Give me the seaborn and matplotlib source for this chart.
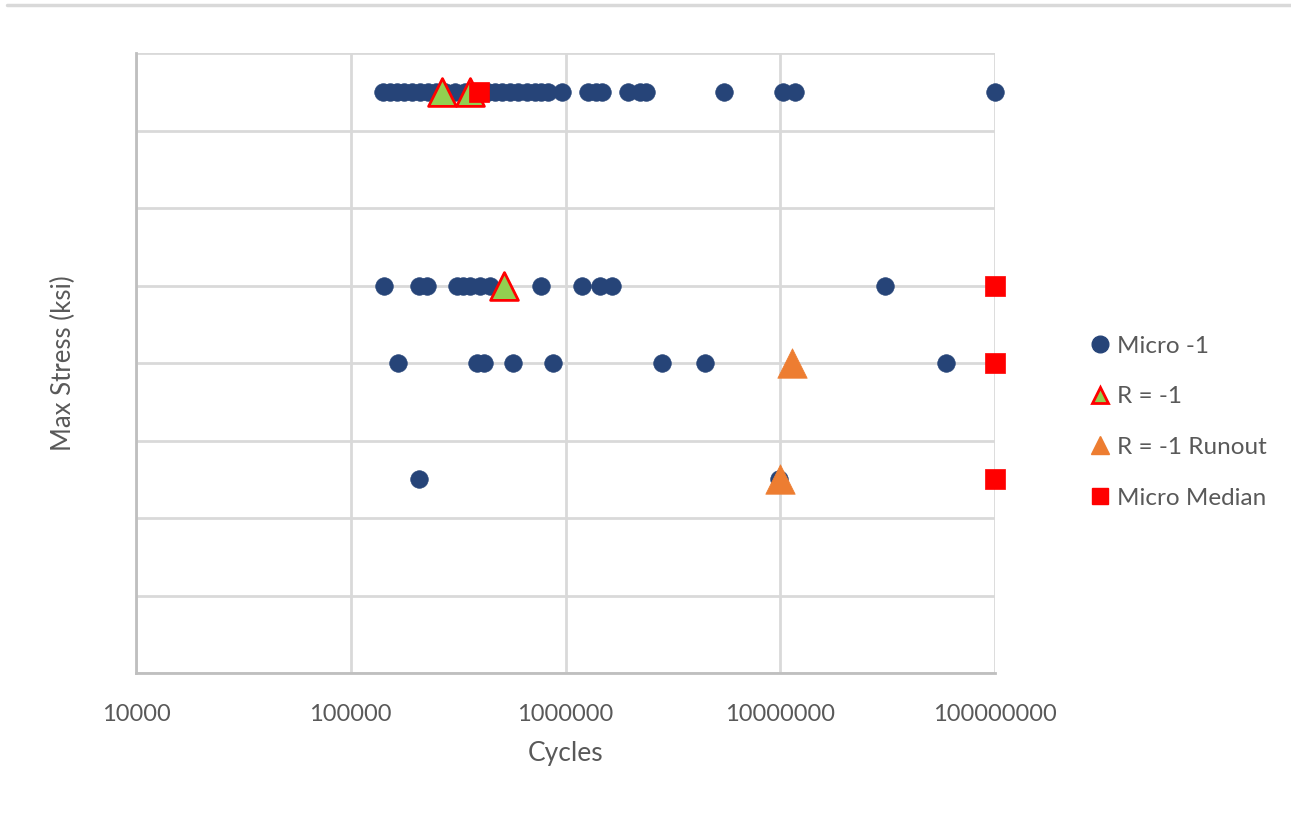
import numpy as np
import pandas as pd
import seaborn as sns
import matplotlib.pyplot as plt
from matplotlib.lines import Line2D
from matplotlib.ticker import FixedLocator, FixedFormatter

# ---- data -----------------------------------------------------------------
micro_cycles = [
    # 75 ksi level
    1.41e5, 1.52e5, 1.64e5, 1.77e5, 1.93e5, 2.10e5, 2.29e5, 2.49e5, 2.75e5,
    3.06e5, 3.40e5, 3.71e5, 4.00e5, 4.36e5, 4.70e5, 5.06e5, 5.52e5, 6.01e5,
    6.62e5, 7.21e5, 7.69e5, 8.29e5, 9.6e5, 1.27e6, 1.39e6, 1.48e6, 1.95e6,
    2.22e6, 2.37e6, 5.48e6, 1.03e7, 1.17e7, 1.0e8,
    # 50 ksi level
    1.43e5, 2.08e5, 2.27e5, 3.12e5, 3.33e5, 3.59e5, 4.00e5, 4.45e5, 7.69e5,
    1.19e6, 1.45e6, 1.65e6, 3.08e7,
    # 40 ksi level
    1.66e5, 3.87e5, 4.17e5, 5.70e5, 8.75e5, 2.81e6, 4.47e6, 5.92e7,
    # 25 ksi level
    2.08e5, 9.9e6,
]
micro_stress = [75] * 33 + [50] * 13 + [40] * 8 + [25] * 2

r1_cycles = [2.66e5, 3.59e5, 5.17e5]
r1_stress = [75, 75, 50]

runout_cycles = [1.13e7, 1.0e7]
runout_stress = [40, 25]

median_cycles = [3.95e5, 1.0e8, 1.0e8, 1.0e8]
median_stress = [75, 50, 40, 25]

x_ticks = [1e4, 1e5, 1e6, 1e7, 1e8]
x_tick_labels = ["10000", "100000", "1000000", "10000000", "100000000"]
y_ticks = [0, 10, 20, 30, 40, 50, 60, 70, 80]

series_labels = ["Micro -1", "R = -1", "R = -1 Runout", "Micro Median"]

# ---- styling --------------------------------------------------------------
BLUE = "#264478"
GREEN = "#92D050"
RED = "#FF0000"
ORANGE = "#ED7D31"
GRID = "#D9D9D9"
TEXT = "#595959"

sns.set_theme(style="white")
plt.rcParams["font.family"] = ["Lato", "DejaVu Sans"]

fig = plt.figure(figsize=(12.91, 8.34), dpi=100)
ax = fig.add_axes([136 / 1291, 1 - 673 / 834, (995 - 136) / 1291, (673 - 53) / 834])

micro = pd.DataFrame({"cycles": micro_cycles, "stress": micro_stress})
r1 = pd.DataFrame({"cycles": r1_cycles, "stress": r1_stress})
runout = pd.DataFrame({"cycles": runout_cycles, "stress": runout_stress})
median = pd.DataFrame({"cycles": median_cycles, "stress": median_stress})

sns.scatterplot(data=micro, x="cycles", y="stress", ax=ax, marker="o", s=160,
                color=BLUE, edgecolor=BLUE, linewidth=0.5, zorder=3,
                legend=False, clip_on=False)
sns.scatterplot(data=r1, x="cycles", y="stress", ax=ax, marker="^", s=400,
                color=GREEN, edgecolor=RED, linewidth=2, zorder=4,
                legend=False, clip_on=False)
sns.scatterplot(data=runout, x="cycles", y="stress", ax=ax, marker="^", s=450,
                color=ORANGE, edgecolor=ORANGE, linewidth=0.5, zorder=4,
                legend=False, clip_on=False)
sns.scatterplot(data=median, x="cycles", y="stress", ax=ax, marker="s", s=210,
                color=RED, edgecolor=RED, linewidth=0.5, zorder=5,
                legend=False, clip_on=False)

ax.set_xscale("log")
ax.set_xlim(1e4, 1e8)
ax.set_ylim(0, 80)
ax.xaxis.set_major_locator(FixedLocator(x_ticks))
ax.xaxis.set_major_formatter(FixedFormatter(x_tick_labels))
ax.xaxis.set_minor_locator(FixedLocator([]))
ax.set_yticks(y_ticks)
ax.set_yticklabels([""] * len(y_ticks))

ax.grid(True, which="major", color=GRID, linewidth=2)
ax.set_axisbelow(True)
for side in ["top", "right"]:
    ax.spines[side].set_visible(False)
for side in ["left", "bottom"]:
    ax.spines[side].set_color("#BFBFBF")
    ax.spines[side].set_linewidth(2)

ax.tick_params(axis="both", length=0, labelsize=17, labelcolor=TEXT)
ax.tick_params(axis="x", pad=22)
ax.set_xlabel("Cycles", fontsize=19, color=TEXT, labelpad=12)
ax.set_ylabel("Max Stress (ksi)", fontsize=18.5, color=TEXT, labelpad=40)

handles = [
    Line2D([], [], linestyle="none", marker="o", markersize=12,
           markerfacecolor=BLUE, markeredgecolor=BLUE),
    Line2D([], [], linestyle="none", marker="^", markersize=12,
           markerfacecolor=GREEN, markeredgecolor=RED, markeredgewidth=2),
    Line2D([], [], linestyle="none", marker="^", markersize=13,
           markerfacecolor=ORANGE, markeredgecolor=ORANGE),
    Line2D([], [], linestyle="none", marker="s", markersize=12,
           markerfacecolor=RED, markeredgecolor=RED),
]
leg = fig.legend(handles, series_labels, loc="center left",
                 bbox_to_anchor=(1081 / 1291, 1 - 422 / 834), frameon=False,
                 fontsize=17.5, labelspacing=1.22, handlelength=0.8,
                 handletextpad=0.3, borderaxespad=0)
for t in leg.get_texts():
    t.set_color(TEXT)

# thin border line along the top of the chart area
fig.add_artist(Line2D([7 / 1291, 1.0], [1 - 5 / 834, 1 - 5 / 834],
                      color=GRID, linewidth=2.5, transform=fig.transFigure))

fig.savefig("out.png", dpi=100, facecolor="white")
